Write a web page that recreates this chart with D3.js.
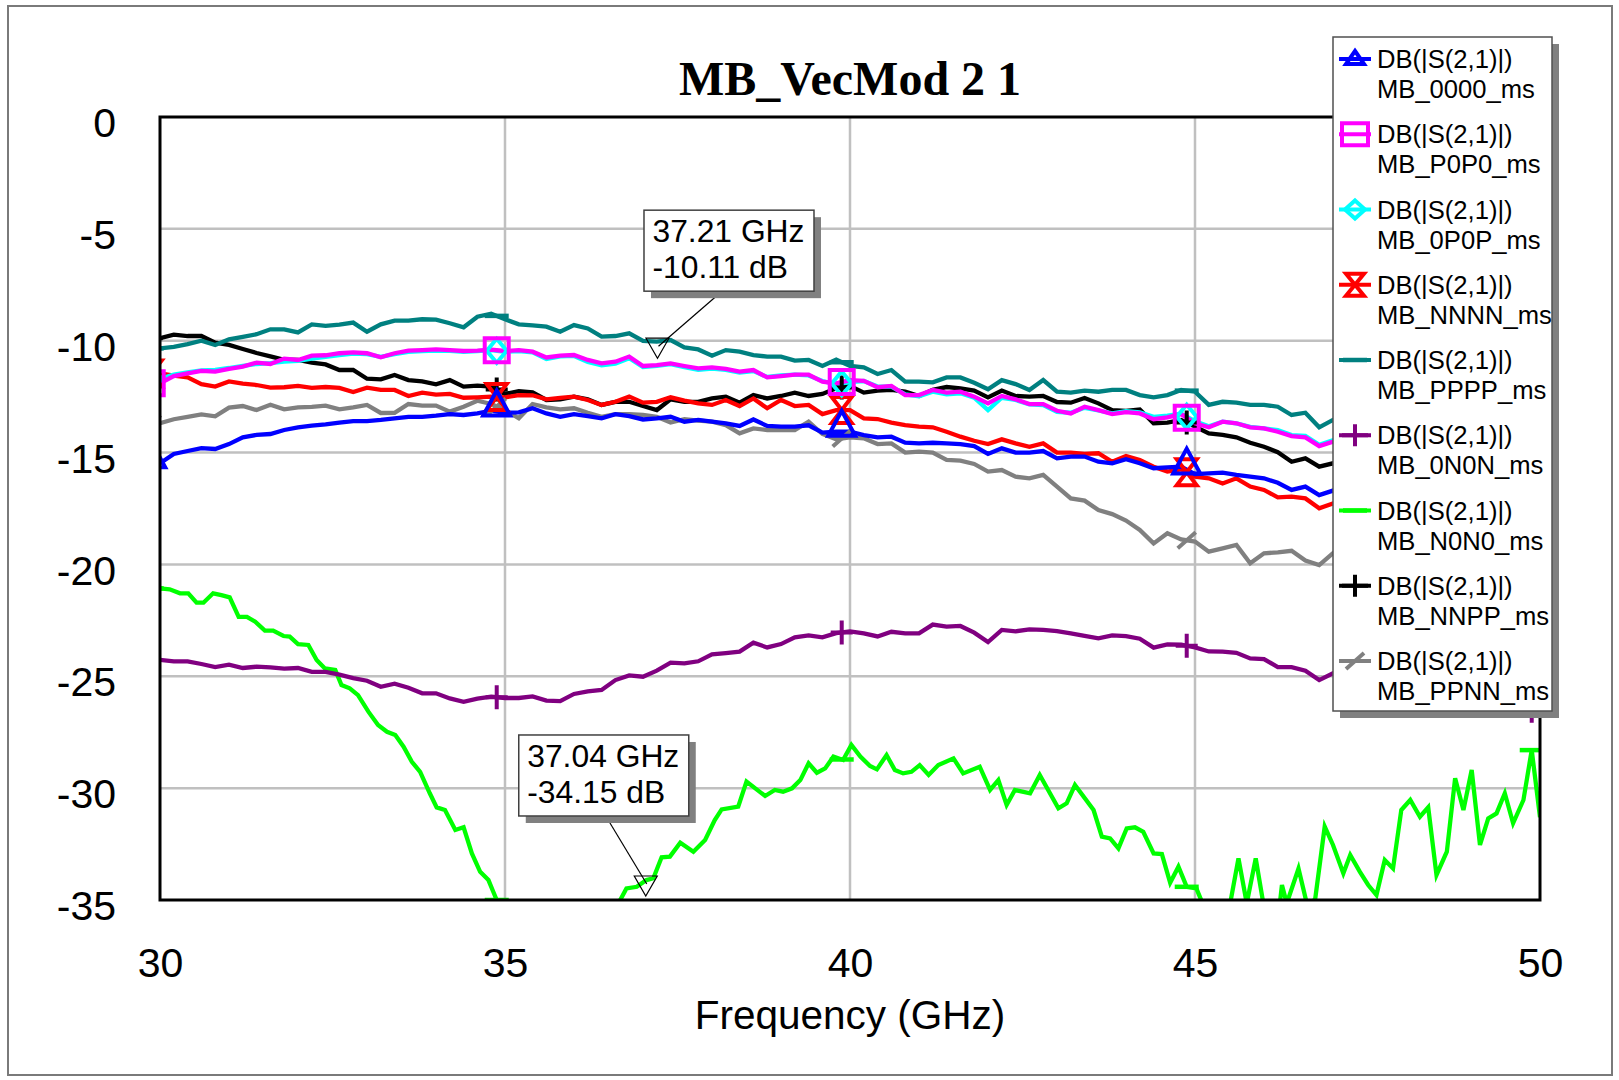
<!DOCTYPE html>
<html><head><meta charset="utf-8">
<script src="https://cdn.jsdelivr.net/npm/d3@7"></script>
<style>body{margin:0;background:#fff}svg{display:block}</style>
</head><body>
<svg id="chart" width="1619" height="1080"></svg>
<script>
// ---------------- DATA ----------------
const freqs = d3.range(0, 101).map(i => +(30 + i * 0.2).toFixed(1)); // sweep 30..50 GHz
const xTicks = [30, 35, 40, 45, 50];
const yTicks = [0, -5, -10, -15, -20, -25, -30, -35];
const markerFreqs = [29.88, 34.88, 39.88, 44.88, 49.88];
const traceLabel = "DB(|S(2,1)|)";
const seriesNames = ["MB_0000_ms","MB_P0P0_ms","MB_0P0P_ms","MB_NNNN_ms","MB_PPPP_ms","MB_0N0N_ms","MB_N0N0_ms","MB_NNPP_ms","MB_PPNN_ms"];

const s0000 = [-15.48,-15.06,-14.93,-14.80,-14.84,-14.62,-14.32,-14.21,-14.17,-13.99,-13.87,-13.80,-13.74,-13.66,-13.59,-13.59,-13.54,-13.47,-13.40,-13.40,-13.35,-13.28,-13.32,-13.25,-13.13,-13.22,-13.20,-13.02,
 -13.25,-13.40,-13.28,-13.37,-13.47,-13.28,-13.37,-13.52,-13.47,-13.40,-13.62,-13.54,-13.62,-13.69,-13.81,-13.52,-13.81,-13.84,-13.84,-13.78,-14.11,-14.07,-14.07,-14.22,-14.32,-14.29,-14.56,-14.59,
 -14.56,-14.59,-14.62,-14.71,-15.06,-14.81,-15.00,-15.00,-14.93,-15.26,-15.18,-15.18,-15.41,-15.48,-15.30,-15.48,-15.70,-15.66,-15.63,-15.96,-15.93,-15.90,-16.00,-16.08,-16.15,-16.35,-16.67,-16.52,-16.90,-16.70,
 -16.85,-17.00,-16.95,-17.10,-17.25,-17.20,-17.40,-17.50,-17.45,-17.60,-17.70,-17.80,-17.75,-17.90,-18.00];

const sP0P0 = [-11.90,-11.58,-11.46,-11.35,-11.38,-11.26,-11.16,-10.98,-11.04,-10.80,-10.86,-10.67,-10.65,-10.56,-10.52,-10.56,-10.74,-10.56,-10.44,-10.42,-10.39,-10.42,-10.46,-10.44,-10.40,-10.46,-10.42,-10.49,
 -10.75,-10.67,-10.64,-10.86,-11.01,-10.94,-10.71,-11.13,-11.09,-11.01,-11.13,-11.24,-11.19,-11.26,-11.38,-11.31,-11.64,-11.58,-11.52,-11.52,-11.83,-11.91,-11.76,-11.79,-12.08,-12.02,-12.43,-12.43,
 -12.20,-12.32,-12.28,-12.50,-12.80,-12.47,-12.62,-12.83,-12.83,-13.13,-13.25,-12.95,-13.10,-13.28,-13.19,-13.25,-13.51,-13.43,-13.28,-13.69,-13.87,-13.62,-13.69,-13.87,-13.92,-14.07,-14.26,-14.32,-14.71,-14.51,
 -14.60,-14.75,-14.80,-14.95,-15.00,-15.10,-15.25,-15.30,-15.40,-15.50,-15.55,-15.70,-15.75,-15.85,-15.90];

const s0P0P = [-11.70,-11.52,-11.42,-11.33,-11.30,-11.22,-11.12,-11.04,-11.00,-10.93,-10.90,-10.80,-10.72,-10.64,-10.58,-10.60,-10.72,-10.60,-10.50,-10.46,-10.44,-10.45,-10.50,-10.47,-10.42,-10.50,-10.46,-10.52,
 -10.82,-10.70,-10.68,-10.95,-11.10,-11.02,-10.78,-11.18,-11.12,-11.05,-11.18,-11.30,-11.25,-11.30,-11.42,-11.36,-11.62,-11.55,-11.52,-11.55,-11.80,-11.95,-11.85,-11.80,-12.05,-12.05,-12.40,-12.48,
 -12.28,-12.40,-12.35,-12.55,-13.10,-12.55,-12.65,-12.85,-12.88,-13.18,-13.22,-13.00,-13.12,-13.25,-13.15,-13.20,-13.40,-13.35,-13.26,-13.60,-13.82,-13.62,-13.70,-13.85,-13.92,-14.00,-14.22,-14.25,-14.65,-14.45,
 -14.55,-14.70,-14.78,-14.90,-14.98,-15.05,-15.20,-15.28,-15.35,-15.45,-15.50,-15.65,-15.70,-15.80,-15.85];

const sNNNN = [-11.46,-11.56,-11.64,-11.94,-12.05,-11.82,-11.92,-11.98,-12.10,-12.08,-12.02,-12.11,-12.07,-12.11,-12.29,-12.10,-12.20,-12.20,-12.47,-12.32,-12.41,-12.38,-12.55,-12.53,-12.50,-12.53,-12.43,-12.44,
 -12.62,-12.56,-12.50,-12.65,-12.87,-12.73,-12.50,-12.77,-12.73,-12.53,-12.68,-12.80,-12.87,-12.65,-12.92,-12.58,-13.02,-12.65,-12.92,-12.87,-13.28,-13.10,-13.10,-13.47,-13.50,-13.66,-13.77,-13.84,
 -13.87,-14.07,-14.29,-14.47,-14.62,-14.41,-14.59,-14.74,-14.59,-15.00,-15.00,-15.06,-15.03,-15.41,-15.15,-15.33,-15.63,-15.85,-15.75,-16.08,-16.15,-16.38,-16.15,-16.52,-16.67,-17.00,-16.97,-17.05,-17.49,-17.27,
 -17.40,-17.60,-17.55,-17.80,-17.90,-18.00,-18.20,-18.25,-18.40,-18.50,-18.60,-18.75,-18.80,-18.95,-19.00];

const sPPPP = [-10.34,-10.28,-10.15,-10.00,-10.19,-9.94,-9.83,-9.71,-9.49,-9.49,-9.63,-9.27,-9.34,-9.28,-9.19,-9.60,-9.27,-9.10,-9.10,-9.04,-9.06,-9.22,-9.40,-8.93,-8.79,-9.04,-9.27,-9.31,
 -9.37,-9.60,-9.30,-9.45,-9.82,-9.79,-9.67,-10.01,-10.04,-9.97,-10.30,-10.39,-10.67,-10.42,-10.49,-10.64,-10.71,-10.71,-10.89,-10.86,-11.13,-10.85,-11.13,-11.19,-11.49,-11.31,-11.83,-11.83,
 -11.86,-11.64,-11.64,-11.88,-12.17,-11.76,-11.94,-12.20,-11.76,-12.28,-12.32,-12.23,-12.28,-12.20,-12.20,-12.43,-12.53,-12.43,-12.20,-12.28,-12.87,-12.73,-12.77,-12.87,-12.87,-12.95,-13.32,-13.22,-13.87,-13.54,
 -13.60,-13.70,-13.75,-13.90,-14.00,-14.05,-14.20,-14.30,-14.35,-14.50,-14.55,-14.70,-14.75,-14.85,-14.90];

const s0N0N = [-24.27,-24.33,-24.33,-24.45,-24.59,-24.48,-24.63,-24.57,-24.60,-24.66,-24.63,-24.80,-24.80,-24.93,-25.08,-25.20,-25.47,-25.33,-25.51,-25.76,-25.76,-25.99,-26.14,-26.00,-25.91,-25.97,-25.97,-25.90,
 -26.09,-26.11,-25.79,-25.67,-25.61,-25.17,-24.96,-25.02,
 -24.75,-24.39,-24.42,-24.33,-24.02,-23.96,-23.90,-23.50,-23.71,-23.56,-23.26,-23.17,-23.26,-23.07,-22.99,-23.08,-23.22,-23.01,-23.08,-23.08,-22.69,-22.78,-22.75,-23.05,-23.47,-22.93,-22.99,-22.90,-22.93,-22.98,-23.08,
 -23.19,-23.30,-23.17,-23.20,-23.32,-23.72,-23.57,-23.59,-23.71,-23.89,-23.90,-23.95,-24.20,-24.23,-24.59,-24.59,-24.75,-25.17,-24.87,
 -25.00,-25.15,-25.10,-25.35,-25.40,-25.50,-25.70,-25.65,-25.85,-26.00,-26.05,-26.25,-26.30,-26.50,-26.60];

const sNNPP = [-9.89,-9.73,-9.79,-9.79,-10.09,-10.19,-10.37,-10.55,-10.70,-10.85,-10.86,-10.98,-11.06,-11.31,-11.31,-11.70,-11.73,-11.53,-11.76,-11.82,-11.95,-11.76,-12.05,-12.01,-12.05,-12.38,-12.25,-12.31,
 -12.65,-12.62,-12.50,-12.62,-12.87,-12.73,-12.73,-12.92,-13.10,-12.62,-12.73,-12.73,-12.58,-12.50,-12.77,-12.43,-12.58,-12.47,-12.32,-12.47,-12.38,-12.13,-12.02,-12.32,-12.23,-12.20,-12.28,-12.47,
 -12.20,-12.07,-12.13,-12.23,-12.53,-12.23,-12.47,-12.50,-12.47,-12.74,-12.77,-12.56,-12.80,-13.10,-13.14,-13.07,-13.69,-13.66,-13.54,-13.84,-14.14,-14.21,-14.32,-14.56,-14.74,-14.98,-15.41,-15.26,-15.63,-15.48,
 -15.60,-15.75,-15.80,-15.95,-16.05,-16.10,-16.30,-16.35,-16.50,-16.60,-16.65,-16.80,-16.85,-17.00,-17.05];

const sPPNN = [-13.69,-13.51,-13.40,-13.29,-13.38,-12.99,-12.92,-13.10,-12.86,-13.07,-12.98,-12.96,-12.90,-13.07,-12.98,-12.87,-13.23,-13.22,-12.83,-12.90,-12.90,-13.17,-12.95,-12.68,-12.83,-13.10,-13.47,-12.83,
 -12.98,-13.07,-13.02,-13.22,-13.40,-13.28,-13.28,-13.32,-13.40,-13.66,-13.51,-13.57,-13.62,-13.77,-14.14,-13.92,-13.99,-13.99,-13.99,-13.62,-14.17,-14.41,-14.32,-14.36,-14.62,-14.59,-15.00,-14.96,
 -15.00,-15.33,-15.36,-15.51,-15.85,-15.78,-16.08,-16.15,-16.00,-16.52,-17.05,-17.15,-17.57,-17.75,-18.04,-18.46,-19.06,-18.61,-18.88,-18.98,-19.43,-19.28,-19.13,-19.95,-19.50,-19.46,-19.39,-19.83,-20.03,-19.50,
 -19.70,-19.85,-19.80,-20.00,-20.10,-20.05,-20.25,-20.30,-20.20,-20.40,-20.50,-20.45,-20.60,-20.70,-20.75];

// MB_N0N0 has its own (denser) read-off vertices
const greenFreqs = [30.00,30.14,30.29,30.41,30.53,30.63,30.77,30.89,31.01,31.14,31.26,31.38,31.52,31.64,31.79,31.88,32.00,32.15,32.27,32.39,32.54,32.63,32.75,32.87,33.02,33.16,33.29,33.41,33.53,33.65,33.77,33.91,34.01,34.13,34.28,34.40,34.52,34.64,34.76,34.83,34.88,
 35.10,35.40,35.80,36.20,36.50,36.67,36.76,36.91,37.05,
 37.15,37.27,37.39,37.54,37.73,37.90,38.04,38.14,38.38,38.50,38.77,38.91,39.03,39.16,39.28,39.40,39.52,39.64,39.76,39.90,40.02,40.15,40.29,40.39,40.53,40.65,40.77,40.89,41.01,41.14,41.28,41.50,41.64,41.88,42.03,42.15,42.27,42.39,42.61,42.75,43.02,43.14,43.26,
 43.53,43.65,43.77,43.89,44.01,44.13,44.25,44.40,44.52,44.64,44.76,44.88,45.02,45.10,45.27,45.51,45.63,45.75,45.88,45.99,46.11,46.23,46.26,46.33,46.50,46.62,46.74,46.88,47.00,47.15,47.25,47.39,47.51,47.63,47.75,47.87,47.99,48.12,48.26,48.38,48.50,48.65,48.77,48.89,49.01,49.13,49.25,49.37,49.49,49.61,49.76,49.88,50.00];
const sN0N0 = [-21.07,-21.11,-21.29,-21.29,-21.71,-21.71,-21.29,-21.37,-21.47,-22.34,-22.34,-22.56,-22.96,-22.96,-23.20,-23.23,-23.56,-23.60,-24.27,-24.65,-24.72,-25.39,-25.54,-25.84,-26.58,-27.18,-27.48,-27.63,-28.15,-28.82,-29.27,-30.23,-30.86,-30.98,-31.87,-31.75,-32.92,-33.74,-34.11,-34.63,-35.00,
 -36.20,-37.30,-38.00,-37.20,-35.80,-35.00,-34.48,-34.41,-34.11,
 -34.03,-33.09,-33.06,-32.44,-32.84,-32.32,-31.43,-30.95,-30.83,-29.71,-30.35,-30.08,-30.16,-30.01,-29.64,-28.89,-29.31,-29.12,-28.59,-28.74,-28.07,-28.59,-29.01,-29.16,-28.52,-29.19,-29.34,-29.27,-28.97,-29.41,-28.97,-28.67,-29.34,-29.04,-30.08,-29.64,-30.75,-30.08,-30.23,-29.41,-30.90,-30.68,-29.86,
 -30.98,-32.17,-32.25,-32.69,-31.80,-31.75,-31.95,-32.92,-32.95,-34.23,-33.51,-34.41,-34.48,-35.08,-36.00,-35.15,-33.14,-35.15,-33.14,-35.15,-36.00,-35.15,-34.33,-35.15,-33.59,-35.15,-35.00,-31.72,-32.54,-33.81,-32.99,-33.74,-34.33,-34.78,-33.21,-33.59,-30.98,-30.53,-31.28,-30.86,-33.88,-32.84,-29.56,-30.98,-29.19,-32.54,-31.35,-31.13,-30.23,-31.57,-30.53,-28.30,-31.30];

const annotFreqs = [37.21, 37.04];
const annotValues = [-10.11, -34.15];

// ---------------- SETUP ----------------
const svg = d3.select('#chart');
const FONT = "'Liberation Sans', Arial, Helvetica, sans-serif";
const plot = {l:160, t:117, r:1540, b:900};
const x = d3.scaleLinear().domain([30, 50]).range([plot.l, plot.r]);
const y = d3.scaleLinear().domain([-35, 0]).range([plot.b, plot.t]);

const series = [
  {name: seriesNames[0], color:'#0000ff', marker:'tri',       f:freqs, v:s0000},
  {name: seriesNames[1], color:'#ff00ff', marker:'square',    f:freqs, v:sP0P0},
  {name: seriesNames[2], color:'#00ffff', marker:'diamond',   f:freqs, v:s0P0P},
  {name: seriesNames[3], color:'#ff0000', marker:'hourglass', f:freqs, v:sNNNN},
  {name: seriesNames[4], color:'#008080', marker:'dash',      f:freqs, v:sPPPP},
  {name: seriesNames[5], color:'#800080', marker:'plus',      f:freqs, v:s0N0N},
  {name: seriesNames[6], color:'#00ff00', marker:'dash',      f:greenFreqs, v:sN0N0},
  {name: seriesNames[7], color:'#000000', marker:'plus',      f:freqs, v:sNNPP},
  {name: seriesNames[8], color:'#808080', marker:'slash',     f:freqs, v:sPPNN}
];

function interp(fa, va, f) {
  if (f <= fa[0]) return va[0];
  if (f >= fa[fa.length-1]) return va[va.length-1];
  const i = d3.bisectRight(fa, f) - 1;
  const t = (f - fa[i]) / (fa[i+1] - fa[i]);
  return va[i] + t * (va[i+1] - va[i]);
}

function drawMarker(g, type, color, cx, cy, small) {
  const m = g.append('g').attr('transform', `translate(${cx},${cy})`)
    .attr('fill','none').attr('stroke', color).attr('stroke-width', 4);
  if (type === 'tri') m.append('path').attr('d', small ? 'M0,-8L9,5L-9,5Z' : 'M0,-21L13.5,4L-13.5,4Z');
  else if (type === 'square') m.append('path').attr('d', small ? 'M-13,-11H13V11H-13Z' : 'M-12,-12H12V12H-12Z');
  else if (type === 'diamond') m.append('path').attr('d', small ? 'M0,-9L10,0L0,9L-10,0Z' : 'M0,-12L10,0L0,12L-10,0Z');
  else if (type === 'hourglass') m.append('path').attr('d', small ? 'M-9,-11L9,-11L-9,11L9,11Z' : 'M-10,-13L10,-13L-10,13L10,13Z');
  else if (type === 'dash') m.append('path').attr('d','M-12,0H12').attr('stroke-width',4.5);
  else if (type === 'plus') m.append('path').attr('d', small ? 'M-13,0H13M0,-11V11' : 'M-11,0H11M0,-12V12');
  else if (type === 'slash') m.append('path').attr('d','M-9,8L9,-8');
}

// outer border
svg.append('rect').attr('x',8).attr('y',6).attr('width',1604).attr('height',1069)
  .attr('fill','#fff').attr('stroke','#7a7a7a').attr('stroke-width',2);

// title
svg.append('text').attr('x', (plot.l+plot.r)/2).attr('y', 95).attr('text-anchor','middle')
  .attr('font-family', "'Liberation Serif','Times New Roman',serif").attr('font-weight','bold')
  .attr('font-size', 48).text('MB_VecMod 2 1');

// grid
const grid = svg.append('g').attr('stroke','#c0c0c0').attr('stroke-width',2.5);
xTicks.slice(1,-1).forEach(t => grid.append('line').attr('x1',x(t)).attr('x2',x(t)).attr('y1',plot.t).attr('y2',plot.b));
yTicks.slice(1,-1).forEach(t => grid.append('line').attr('x1',plot.l).attr('x2',plot.r).attr('y1',y(t)).attr('y2',y(t)));

// axes (labels only)
const xAxis = svg.append('g').attr('transform',`translate(0,${plot.b})`)
  .call(d3.axisBottom(x).tickValues(xTicks).tickSize(0).tickPadding(48).tickFormat(d3.format('d')));
const yAxis = svg.append('g').attr('transform',`translate(${plot.l},0)`)
  .call(d3.axisLeft(y).tickValues(yTicks).tickSize(0).tickPadding(44).tickFormat(d => d === 0 ? '0' : String(d)));
[xAxis, yAxis].forEach(a => {
  a.select('.domain').remove();
  a.selectAll('text').attr('font-family', FONT).attr('font-size', 41).attr('fill','#000');
});
yAxis.selectAll('text').attr('dy','0.48em');

svg.append('text').attr('x',(plot.l+plot.r)/2).attr('y',1029).attr('text-anchor','middle')
  .attr('font-family',FONT).attr('font-size',40.5).text('Frequency (GHz)');

// clip
svg.append('clipPath').attr('id','plotclip').append('rect')
  .attr('x',plot.l).attr('y',plot.t).attr('width',plot.r-plot.l).attr('height',plot.b-plot.t);

const lineGen = d3.line().x(d => x(d[0])).y(d => y(d[1]));
const dataG = svg.append('g').attr('clip-path','url(#plotclip)');
series.slice().reverse().forEach(s => {
  const pts = s.f.map((f,i) => [f, s.v[i]]);
  dataG.append('path').datum(pts).attr('d', lineGen).attr('fill','none')
    .attr('stroke', s.color).attr('stroke-width', 4.3).attr('stroke-linejoin','miter');
});
series.slice().reverse().forEach(s => {
  markerFreqs.forEach(mf => drawMarker(dataG, s.marker, s.color, x(mf), y(interp(s.f, s.v, mf)), false));
});

// plot frame
svg.append('rect').attr('x',plot.l).attr('y',plot.t).attr('width',plot.r-plot.l).attr('height',plot.b-plot.t)
  .attr('fill','none').attr('stroke','#000').attr('stroke-width',3);

// annotations
const annLayout = [{dx:-13.5, dy:-133, lx:78}, {dx:-127, dy:-146, lx:87}];
annotFreqs.forEach((af, i) => {
  const px = x(af), py = y(annotValues[i]);
  const L = annLayout[i];
  const bx = px + L.dx, by = py + L.dy, bw = 170, bh = 81;
  const g = svg.append('g');
  g.append('path').attr('d', `M${px-11.5},${py-5}L${px+11.5},${py-5}L${px},${py+15}Z`)
    .attr('fill','none').attr('stroke','#000').attr('stroke-width',1.2);
  g.append('line').attr('x1', bx+L.lx).attr('y1', by+bh).attr('x2', px+1).attr('y2', py+3)
    .attr('stroke','#000').attr('stroke-width',1.2);
  g.append('rect').attr('x',bx+7).attr('y',by+7).attr('width',bw).attr('height',bh).attr('fill','#808080');
  g.append('rect').attr('x',bx).attr('y',by).attr('width',bw).attr('height',bh)
    .attr('fill','#fff').attr('stroke','#404040').attr('stroke-width',1.5);
  const t1 = af.toFixed(2) + ' GHz', t2 = annotValues[i].toFixed(2) + ' dB';
  g.append('text').attr('x',bx+8.5).attr('y',by+32).attr('font-family',FONT).attr('font-size',31.8).text(t1);
  g.append('text').attr('x',bx+8.5).attr('y',by+68).attr('font-family',FONT).attr('font-size',31.8).text(t2);
});

// legend
const leg = {x:1333, y:37, w:219, h:674};
svg.append('rect').attr('x',leg.x+7).attr('y',leg.y+7).attr('width',leg.w).attr('height',leg.h).attr('fill','#808080');
svg.append('rect').attr('x',leg.x).attr('y',leg.y).attr('width',leg.w).attr('height',leg.h)
  .attr('fill','#fff').attr('stroke','#505050').attr('stroke-width',1.5);
series.forEach((s, i) => {
  const cy = leg.y + 22 + i * 75.25;
  const g = svg.append('g');
  g.append('line').attr('x1', leg.x+6).attr('x2', leg.x+38).attr('y1', cy).attr('y2', cy)
    .attr('stroke', s.color).attr('stroke-width', 4);
  drawMarker(g, s.marker, s.color, leg.x+22, cy, true);
  g.append('text').attr('x', leg.x+44).attr('y', cy+9).attr('font-family',FONT).attr('font-size',25.6).text(traceLabel);
  g.append('text').attr('x', leg.x+44).attr('y', cy+39).attr('font-family',FONT).attr('font-size',25.6).text(s.name);
});
</script>
</body></html>
